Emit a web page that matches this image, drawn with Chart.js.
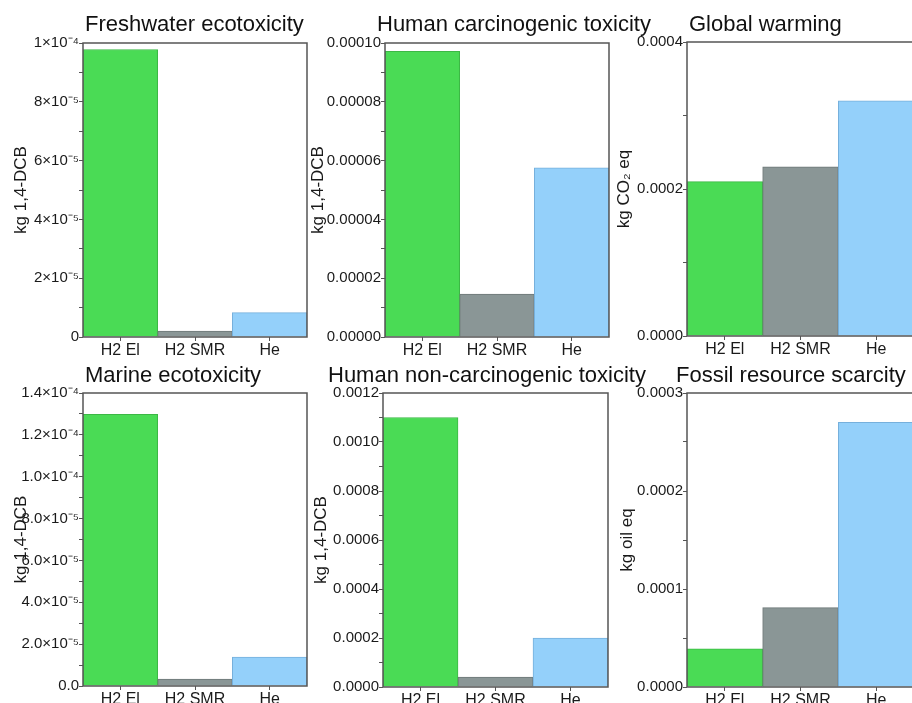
<!DOCTYPE html>
<html>
<head>
<meta charset="utf-8">
<script src="https://cdn.jsdelivr.net/npm/chart.js@4.4.1/dist/chart.umd.min.js"></script>
<style>
  html, body {
    margin: 0;
    padding: 0;
    background: #ffffff;
  }
  #stage {
    position: relative;
    width: 912px;
    height: 703px;
    overflow: hidden;
    font-family: "Liberation Sans", Arial, sans-serif;
  }
  #stage canvas {
    position: absolute;
  }
  .panel-title {
    position: absolute;
    font-size: 22px;
    line-height: 22px;
    color: #111111;
    white-space: nowrap;
    z-index: 2;
  }
</style>
</head>
<body>
<div id="stage"></div>
<script>
const categories = ["H2 El", "H2 SMR", "He"];

const freshwaterValues = [9.78e-5, 2.0e-6, 8.3e-6];
const humanCarcValues = [9.72e-5, 1.46e-5, 5.75e-5];
const globalWarmingValues = [2.1e-4, 2.3e-4, 3.2e-4];
const marineValues = [1.298e-4, 3.3e-6, 1.38e-5];
const humanNonCarcValues = [1.1e-3, 4.0e-5, 2.0e-4];
const fossilValues = [3.9e-5, 8.1e-5, 2.7e-4];

const freshwaterTicks = ["0", "", "2×10⁻⁵", "", "4×10⁻⁵", "", "6×10⁻⁵", "", "8×10⁻⁵", "", "1×10⁻⁴"];
const humanCarcTicks = ["0.00000", "", "0.00002", "", "0.00004", "", "0.00006", "", "0.00008", "", "0.00010"];
const globalWarmingTicks = ["0.0000", "", "0.0002", "", "0.0004"];
const marineTicks = ["0.0", "", "2.0×10⁻⁵", "", "4.0×10⁻⁵", "", "6.0×10⁻⁵", "", "8.0×10⁻⁵", "", "1.0×10⁻⁴", "", "1.2×10⁻⁴", "", "1.4×10⁻⁴"];
const humanNonCarcTicks = ["0.0000", "", "0.0002", "", "0.0004", "", "0.0006", "", "0.0008", "", "0.0010", "", "0.0012"];
const fossilTicks = ["0.0000", "", "0.0001", "", "0.0002", "", "0.0003"];

const palette = {
  fill: ["#4adb55", "#8a9696", "#94d0fa"],
  edge: ["#3cb845", "#6d7777", "#76b0dc"],
  frame: "#555555",
  text: "#1a1a1a",
};

// panel boxes: col = canvas left, l/r/t/b = plot area edges, titleX/titleY = panel heading
const panels = [
  { title: "Freshwater ecotoxicity", unit: "kg 1,4-DCB", values: freshwaterValues, ticks: freshwaterTicks, max: 1e-4,
    col: 0, l: 83, r: 307, t: 43, b: 337, unitPad: 11, titleX: 85, titleY: 13 },
  { title: "Human carcinogenic toxicity", unit: "kg 1,4-DCB", values: humanCarcValues, ticks: humanCarcTicks, max: 1e-4,
    col: 300, l: 385, r: 609, t: 43, b: 337, unitPad: 8, titleX: 377, titleY: 13 },
  { title: "Global warming", unit: "kg CO₂ eq", values: globalWarmingValues, ticks: globalWarmingTicks, max: 4e-4,
    col: 600, l: 687, r: 914, t: 42, b: 336, unitPad: 14, titleX: 689, titleY: 13 },
  { title: "Marine ecotoxicity", unit: "kg 1,4-DCB", values: marineValues, ticks: marineTicks, max: 1.4e-4,
    col: 0, l: 83, r: 307, t: 393, b: 686, unitPad: 11, titleX: 85, titleY: 364 },
  { title: "Human non-carcinogenic toxicity", unit: "kg 1,4-DCB", values: humanNonCarcValues, ticks: humanNonCarcTicks, max: 1.2e-3,
    col: 300, l: 383, r: 608, t: 393, b: 687, unitPad: 11, titleX: 328, titleY: 364 },
  { title: "Fossil resource scarcity", unit: "kg oil eq", values: fossilValues, ticks: fossilTicks, max: 3e-4,
    col: 600, l: 687, r: 914, t: 393, b: 687, unitPad: 17, titleX: 676, titleY: 364 },
];

const framePlugin = {
  id: "frame",
  afterDatasetsDraw(chart) {
    const { ctx, chartArea } = chart;
    ctx.save();
    ctx.strokeStyle = palette.frame;
    ctx.lineWidth = 1.5;
    ctx.strokeRect(chartArea.left, chartArea.top, chartArea.right - chartArea.left, chartArea.bottom - chartArea.top);
    ctx.restore();
  },
};

function renderPanel(panel) {
  const stage = document.getElementById("stage");
  const padTop = 12;
  const padRight = 4;
  const xHeight = 26;
  const top = panel.t - padTop;

  const canvas = document.createElement("canvas");
  canvas.width = panel.r - panel.col + padRight;
  canvas.height = panel.b - top + xHeight;
  canvas.style.left = panel.col + "px";
  canvas.style.top = top + "px";
  stage.appendChild(canvas);

  const heading = document.createElement("div");
  heading.className = "panel-title";
  heading.textContent = panel.title;
  heading.style.left = panel.titleX + "px";
  heading.style.top = panel.titleY + "px";
  stage.appendChild(heading);

  new Chart(canvas, {
    type: "bar",
    data: {
      labels: categories,
      datasets: [
        {
          data: panel.values,
          backgroundColor: palette.fill,
          borderColor: palette.edge,
          borderWidth: 1,
          categoryPercentage: 1,
          barPercentage: 1,
        },
      ],
    },
    options: {
      responsive: false,
      animation: false,
      devicePixelRatio: 1,
      layout: { padding: { left: 0, top: padTop, right: padRight, bottom: 0 } },
      plugins: {
        legend: { display: false },
        tooltip: { enabled: false },
      },
      scales: {
        x: {
          grid: { display: true, drawOnChartArea: false, offset: false, tickLength: 4, color: palette.frame },
          border: { display: false },
          ticks: {
            color: palette.text,
            padding: 0,
            maxRotation: 0,
            font: { family: "Liberation Sans, Arial, sans-serif", size: 16 },
          },
          afterFit: (scale) => {
            scale.height = xHeight;
          },
        },
        y: {
          min: 0,
          max: panel.max,
          grid: { display: true, drawOnChartArea: false, tickLength: 4, color: palette.frame },
          border: { display: false },
          ticks: {
            count: panel.ticks.length,
            autoSkip: false,
            padding: 0,
            color: palette.text,
            font: { family: "Liberation Sans, Arial, sans-serif", size: 15 },
            callback: (value, index) => panel.ticks[index],
          },
          title: {
            display: true,
            text: panel.unit,
            color: palette.text,
            padding: { top: panel.unitPad, bottom: 0 },
            font: { family: "Liberation Sans, Arial, sans-serif", size: 17 },
          },
          afterFit: (scale) => {
            scale.width = panel.l - panel.col;
          },
        },
      },
    },
    plugins: [framePlugin],
  });
}

panels.forEach(renderPanel);
</script>
</body>
</html>
